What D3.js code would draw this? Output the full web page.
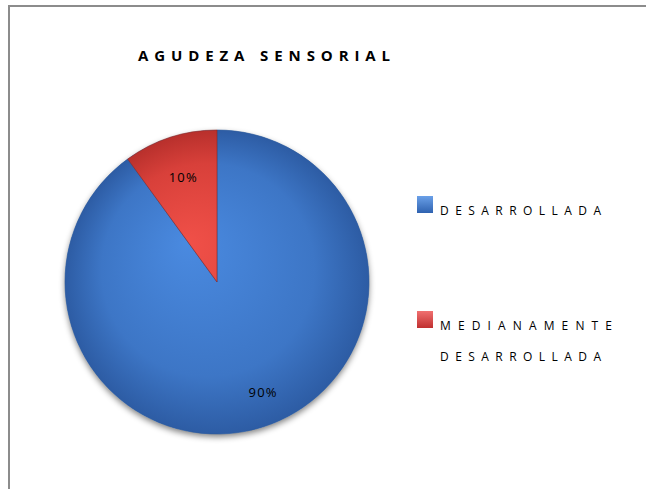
<!DOCTYPE html>
<html>
<head>
<meta charset="utf-8">
<script src="https://cdn.jsdelivr.net/npm/d3@7"></script>
<style>
  html, body { margin: 0; padding: 0; background: #fff; }
  svg { display: block; font-family: "Open Sans", "Noto Sans", "DejaVu Sans", sans-serif; }
</style>
</head>
<body>
<script>
const categories = ["DESARROLLADA", "MEDIANAMENTE DESARROLLADA"];
const legendLines = [["DESARROLLADA"], ["MEDIANAMENTE", "DESARROLLADA"]];
const values = [90, 10];
const labels = ["90%", "10%"];
const title = "AGUDEZA SENSORIAL";

const W = 646, H = 489;
const svg = d3.select("body").append("svg").attr("width", W).attr("height", H);
const defs = svg.append("defs");

const gradSpecs = [
  { id: "gBlue", stops: [["0%", "#4a8ae0"], ["70%", "#3d76c6"], ["100%", "#2d5ca4"]] },
  { id: "gRed", stops: [["0%", "#f05048"], ["70%", "#d8403a"], ["100%", "#b8302c"]] }
];
gradSpecs.forEach(g => {
  const rg = defs.append("radialGradient").attr("id", g.id)
    .attr("gradientUnits", "userSpaceOnUse")
    .attr("cx", 0).attr("cy", 0).attr("r", 152).attr("fx", -30).attr("fy", -40);
  g.stops.forEach(s => rg.append("stop").attr("offset", s[0]).attr("stop-color", s[1]));
});
const lgSpecs = [
  { id: "lBlue", top: "#6aa0e8", bot: "#2f62b0" },
  { id: "lRed", top: "#f07070", bot: "#c03030" }
];
lgSpecs.forEach(g => {
  const lg = defs.append("linearGradient").attr("id", g.id).attr("x1", 0).attr("y1", 0).attr("x2", 0).attr("y2", 1);
  lg.append("stop").attr("offset", "0%").attr("stop-color", g.top);
  lg.append("stop").attr("offset", "100%").attr("stop-color", g.bot);
});
const f = defs.append("filter").attr("id", "shadow").attr("x", "-20%").attr("y", "-20%").attr("width", "140%").attr("height", "140%");
f.append("feGaussianBlur").attr("in", "SourceAlpha").attr("stdDeviation", 3).attr("result", "b");
f.append("feOffset").attr("in", "b").attr("dx", 0).attr("dy", 3).attr("result", "o");
f.append("feComponentTransfer").attr("in", "o").attr("result", "o2")
  .append("feFuncA").attr("type", "linear").attr("slope", 0.5);
const fm = f.append("feMerge");
fm.append("feMergeNode").attr("in", "o2");
fm.append("feMergeNode").attr("in", "SourceGraphic");

// frame (top and left borders)
svg.append("line").attr("x1", 8).attr("x2", W).attr("y1", 6).attr("y2", 6)
  .attr("stroke", "#8c8c8c").attr("stroke-width", 2);
svg.append("line").attr("x1", 9).attr("x2", 9).attr("y1", 5).attr("y2", H)
  .attr("stroke", "#8c8c8c").attr("stroke-width", 2);

// title
svg.append("text").attr("x", 138).attr("y", 61)
  .attr("font-weight", "bold").attr("font-size", 15)
  .attr("textLength", 252).attr("lengthAdjust", "spacing")
  .attr("fill", "#000").text(title);

// pie
const cx = 217, cy = 282, R = 152;
const fills = ["url(#gBlue)", "url(#gRed)"];
const pie = d3.pie().sort(null).startAngle(0).endAngle(2 * Math.PI);
const arcs = pie(values);
const arc = d3.arc().innerRadius(0).outerRadius(R);
const g = svg.append("g").attr("transform", `translate(${cx},${cy})`);
g.append("circle").attr("r", R).attr("fill", "#3f78c8").attr("filter", "url(#shadow)");
g.selectAll("path.slice").data(arcs).enter().append("path").attr("class", "slice")
  .attr("d", arc).attr("fill", (d, i) => fills[i])
  .attr("stroke", (d, i) => i === 0 ? "#2f5a98" : "#8a2a26").attr("stroke-width", 0.6);

// data labels
const labelR = [117, 109];
const labelDx = [10, 0];
g.selectAll("text.lbl").data(arcs).enter().append("text").attr("class", "lbl")
  .attr("x", (d, i) => Math.sin((d.startAngle + d.endAngle) / 2) * labelR[i] + labelDx[i])
  .attr("y", (d, i) => -Math.cos((d.startAngle + d.endAngle) / 2) * labelR[i] + 4)
  .attr("text-anchor", "middle").attr("font-size", 13).attr("letter-spacing", 1.2)
  .attr("fill", "#000").text((d, i) => labels[i]);

// legend
const lx = 417, ly = [196, 311];
const lgFills = ["url(#lBlue)", "url(#lRed)"];
const lineLen = { "DESARROLLADA": 161, "MEDIANAMENTE": 172 };
const leg = svg.append("g");
categories.forEach((c, i) => {
  leg.append("rect").attr("x", lx).attr("y", ly[i]).attr("width", 16).attr("height", 17)
    .attr("fill", lgFills[i]);
  legendLines[i].forEach((t, j) => {
    leg.append("text").attr("x", lx + 23).attr("y", ly[i] + 19 + j * 31)
      .attr("font-size", 12).attr("textLength", lineLen[t]).attr("lengthAdjust", "spacing")
      .attr("fill", "#000").text(t);
  });
});
</script>
</body>
</html>
